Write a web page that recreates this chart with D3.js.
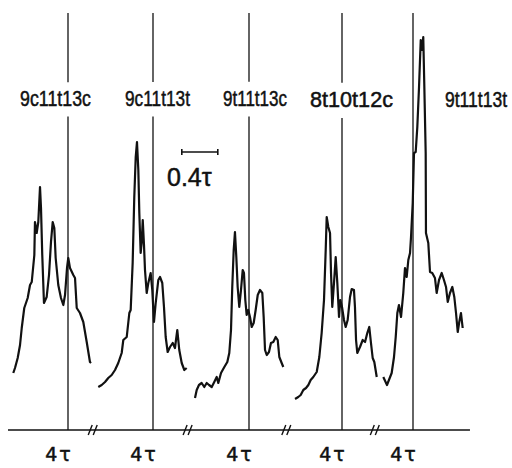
<!DOCTYPE html>
<html>
<head>
<meta charset="utf-8">
<script src="https://cdn.jsdelivr.net/npm/d3@7"></script>
<style>
  body { margin: 0; background: #fff; }
  text { fill: #111; stroke: #111; stroke-width: 0.5px; }
</style>
</head>
<body>
<svg id="chart" width="512" height="468"></svg>
<script>
// isomer written above each trace
const isomers = ['9c11t13c', '9c11t13t', '9t11t13c', '8t10t12c', '9t11t13t'];
// reference mark written under each trace
const refLabels = ['4τ', '4τ', '4τ', '4τ', '4τ'];
// scale bar
const scaleBarValue = 0.4;
const scaleBarText = '0.4τ';
// axis breaks, in τ after each panel's reference line
const breaksAfter = [0.28, 0.39, 0.42, 0.37];

// traces: [offset from reference line (τ), detector signal]
const trace1 = [[-0.608,57],[-0.589,62],[-0.559,72],[-0.533,85],[-0.514,102],[-0.486,122],[-0.448,132],
  [-0.422,145],[-0.403,148],[-0.374,175],[-0.367,208],[-0.348,197],[-0.330,208],[-0.311,243],[-0.300,222],
  [-0.286,175],[-0.267,127],[-0.237,133],[-0.211,155],[-0.189,188],[-0.170,208],[-0.152,202],[-0.137,172],
  [-0.108,145],[-0.078,132],[-0.052,125],[-0.033,135],[-0.011,162],[0.003,172],[0.022,162],[0.059,155],
  [0.078,152],[0.097,122],[0.133,117],[0.170,108],[0.208,88],[0.244,68],[0.256,67]];
const trace2 = [[-0.608,43],[-0.570,45],[-0.533,48],[-0.497,52],[-0.459,55],[-0.422,60],[-0.386,67],
  [-0.348,77],[-0.330,90],[-0.292,93],[-0.263,117],[-0.248,120],[-0.226,167],[-0.208,233],[-0.192,273],
  [-0.178,288],[-0.163,260],[-0.152,217],[-0.137,177],[-0.126,187],[-0.114,210],[-0.100,185],[-0.089,160],
  [-0.070,137],[-0.052,147],[-0.026,157],[-0.008,140],[0.011,108],[0.030,127],[0.059,150],[0.078,153],
  [0.103,147],[0.122,123],[0.141,93],[0.163,78],[0.189,83],[0.219,87],[0.244,82],[0.270,100],[0.292,80],
  [0.319,67],[0.348,60],[0.374,62]];
const trace3 = [[-0.600,32],[-0.581,40],[-0.556,45],[-0.526,47],[-0.497,43],[-0.470,47],[-0.444,45],
  [-0.414,43],[-0.386,48],[-0.359,53],[-0.341,47],[-0.311,57],[-0.274,63],[-0.241,68],[-0.219,77],
  [-0.200,100],[-0.186,143],[-0.170,180],[-0.156,198],[-0.141,173],[-0.126,143],[-0.108,123],[-0.089,140],
  [-0.070,160],[-0.056,157],[-0.041,130],[-0.026,115],[-0.008,120],[0.011,113],[0.030,103],[0.052,107],
  [0.074,120],[0.097,135],[0.122,140],[0.148,137],[0.163,113],[0.178,80],[0.197,75],[0.222,78],[0.244,87],
  [0.270,88],[0.297,93],[0.319,90],[0.337,73],[0.363,67],[0.381,63]];
const trace4 = [[-0.522,31],[-0.486,33],[-0.459,35],[-0.430,40],[-0.400,42],[-0.374,45],[-0.348,50],
  [-0.319,53],[-0.281,58],[-0.252,73],[-0.226,97],[-0.200,130],[-0.181,180],[-0.170,213],[-0.152,203],
  [-0.133,197],[-0.122,157],[-0.108,123],[-0.089,147],[-0.070,173],[-0.052,147],[-0.033,113],[-0.019,130],
  [0.000,123],[0.022,110],[0.041,103],[0.063,110],[0.089,133],[0.108,141],[0.133,140],[0.144,123],
  [0.156,90],[0.170,77],[0.200,83],[0.230,90],[0.256,88],[0.281,97],[0.303,103],[0.322,87],[0.341,72],
  [0.359,68],[0.386,53]];
const trace5 = [[-0.330,53],[-0.289,45],[-0.237,57],[-0.211,73],[-0.192,93],[-0.174,117],[-0.156,125],
  [-0.133,113],[-0.108,137],[-0.089,162],[-0.070,153],[-0.052,170],[-0.033,177],[-0.022,193],[-0.003,227],
  [0.011,277],[0.030,278],[0.048,303],[0.067,343],[0.086,390],[0.103,380],[0.114,393],[0.126,343],
  [0.141,277],[0.144,197],[0.170,187],[0.189,158],[0.214,157],[0.244,152],[0.263,137],[0.289,150],
  [0.319,157],[0.344,150],[0.367,143],[0.386,128],[0.411,137],[0.437,143],[0.459,133],[0.478,117],
  [0.497,98],[0.514,108],[0.533,117],[0.552,102]];
const traces = [trace1, trace2, trace3, trace4, trace5];

// layout
const refX = [68, 153, 249, 342, 413];      // reference line of each panel
const pxPerTau = 90;
const refTop = 417;                          // top of reference lines, signal units
const axisFrom = -0.667, axisTo = 0.633;     // baseline extent (first / last panel)
const labelDx = [-12.5, 4.5, 6, 9.5, 63];
const labelY = [106, 106, 106, 107, 107];
const labelW = [71, 65, 64, 83, 62];

var svg = d3.select('#chart');

var y = d3.scaleLinear().domain([0, 400]).range([430, 30]);
var xs = refX.map(r => d3.scaleLinear().domain([0, 1]).range([r, r + pxPerTau]));

// baseline of the broken axis
svg.append('line')
    .attr('x1', xs[0](axisFrom)).attr('x2', xs[4](axisTo))
    .attr('y1', y(0)).attr('y2', y(0))
    .attr('stroke', '#111').attr('stroke-width', 1.6);

// break marks
breaksAfter.forEach((b, i) => {
    var bx = xs[i](b);
    [-3, 2].forEach(o => {
        svg.append('line')
            .attr('x1', bx + o - 2).attr('y1', y(0) + 5)
            .attr('x2', bx + o + 2).attr('y2', y(0) - 5)
            .attr('stroke', '#111').attr('stroke-width', 1.4);
    });
});

// isomer labels, squeezed horizontally to the narrow lettering of the original
var labels = svg.selectAll('.iso')
    .data(isomers)
    .enter().append('text')
    .attr('class', 'iso')
    .attr('text-anchor', 'middle')
    .style('font-family', 'Liberation Sans, Arial, sans-serif')
    .style('font-size', '22px')
    .text(d => d);

labels.each(function(d, i) {
    var len = this.getComputedTextLength();
    d3.select(this).attr('transform',
        'translate(' + (refX[i] + labelDx[i]) + ',' + labelY[i] + ') scale(' + (labelW[i] / len) + ',1)');
});

// reference lines, broken where a label sits on them
isomers.forEach((d, i) => {
    var x0 = refX[i];
    var cx = refX[i] + labelDx[i];
    var box = labels.nodes()[i].getBBox();
    var top = labelY[i] + box.y, bottom = top + box.height;
    var segs = [[y(refTop), y(0)]];
    if (Math.abs(x0 - cx) < labelW[i] / 2) {
        segs = [[y(refTop), top - 4], [bottom + 6, y(0)]];
    }
    segs.forEach(s => {
        svg.append('line')
            .attr('x1', x0).attr('x2', x0)
            .attr('y1', s[0]).attr('y2', s[1])
            .attr('stroke', '#111').attr('stroke-width', 1.3);
    });
});

// traces
traces.forEach((t, i) => {
    var line = d3.line()
        .x(d => xs[i](d[0]))
        .y(d => y(d[1]));
    svg.append('path')
        .datum(t)
        .attr('d', line)
        .attr('fill', 'none')
        .attr('stroke', '#111')
        .attr('stroke-width', 2.2)
        .attr('stroke-linejoin', 'round');
});

// reference labels under the axis
svg.selectAll('.ref')
    .data(refLabels)
    .enter().append('text')
    .attr('class', 'ref')
    .attr('x', (d, i) => refX[i] - 9)
    .attr('y', 461)
    .attr('text-anchor', 'middle')
    .attr('letter-spacing', 2)
    .style('font-family', 'DejaVu Sans, sans-serif')
    .style('font-size', '19px')
    .text(d => d);

// scale bar
var sb0 = xs[1](0.32), sb1 = xs[1](0.32 + scaleBarValue);
var sbY = 152;
svg.append('line')
    .attr('x1', sb0).attr('x2', sb1).attr('y1', sbY).attr('y2', sbY)
    .attr('stroke', '#111').attr('stroke-width', 1.6);
[sb0, sb1].forEach(x => {
    svg.append('line')
        .attr('x1', x).attr('x2', x).attr('y1', sbY - 3).attr('y2', sbY + 3)
        .attr('stroke', '#111').attr('stroke-width', 1.6);
});
svg.append('text')
    .attr('x', 167)
    .attr('y', 186)
    .style('font-family', 'Liberation Sans, Arial, sans-serif')
    .style('font-size', '25px')
    .text(scaleBarText);
</script>
</body>
</html>
